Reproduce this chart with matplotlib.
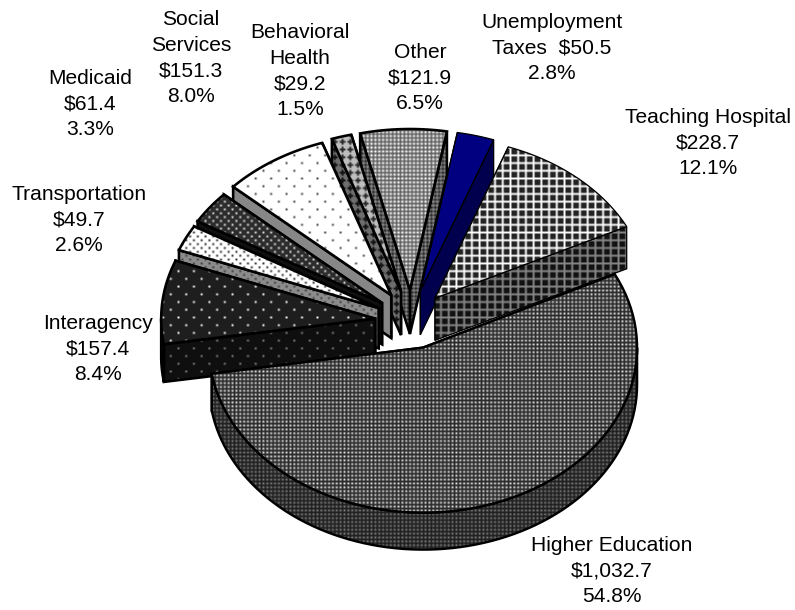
import numpy as np
import matplotlib
matplotlib.use("Agg")
import matplotlib.pyplot as plt
from matplotlib.patches import Polygon

plt.rcParams['font.family'] = ['Liberation Sans', 'DejaVu Sans']

# slices counter-clockwise, starting from the right edge of Teaching Hospital
names = ["Teaching Hospital", "Unemployment\nTaxes ", "Other", "Behavioral\nHealth", "Social\nServices",
         "Medicaid", "Transportation", "Interagency", "Higher Education"]
amounts = [228.7, 50.5, 121.9, 29.2, 151.3, 61.4, 49.7, 157.4, 1032.7]
percents = [12.1, 2.8, 6.5, 1.5, 8.0, 3.3, 2.6, 8.4, 54.8]

W, H = 795, 610
CX, CY = 411, 322      # pie centre
RX, RY = 214, 161      # tilted radii
EX, EY = 36, 32        # explosion distance
START = 26.4
UNIT = 1.93            # size of one pattern cell


def dots(size, cells, bg, fg):
    t = np.full((size, size), bg, dtype=float)
    for r, c in cells:
        t[r, c] = fg
    return t


def grid(bg, fg):
    t = np.full((4, 4), bg, dtype=float)
    t[0, :] = fg
    t[:, 0] = fg
    return t


def cross(bg, fg):
    return np.array([[bg, fg, bg, bg],
                     [fg, fg, fg, bg],
                     [bg, fg, bg, bg],
                     [bg, bg, bg, bg]], dtype=float)


SPARSE = [(0, 0), (4, 4)]
DENSE = [(0, 0), (2, 2)]

# top pattern, wall pattern and outline width for each slice
top_tiles = [grid(35, 255), None, np.array([[255, 120], [120, 90]], float), cross(190, 40),
             dots(8, SPARSE, 255, 60), dots(4, DENSE, 45, 225), dots(4, DENSE, 255, 40),
             dots(8, SPARSE, 30, 255), np.array([[225, 45], [45, 40]], float)]
wall_tiles = [grid(18, 135), None, np.array([[150, 90], [90, 30]], float), cross(110, 15),
              dots(2, [], 135, 135), dots(2, [], 15, 15), dots(4, DENSE, 140, 60),
              dots(8, SPARSE, 15, 130), np.array([[125, 35], [35, 30]], float)]
solid_top = "#000080"
solid_wall = "#00004f"
widths = [1.3, 1.3, 2.6, 2.6, 2.6, 2.6, 2.6, 2.6, 2.4]
# explosion and vertical stretch per slice; the big front slice sits closer to the viewer
explode_x = [1, 1, 1, 1, 1, 1, 1, 1, 1.1]
explode_y = [1, 1, 1, 1, 1, 1, 1, 1, 0.84]
stretch = [1, 1, 1, 1, 1, 1, 1, 1, 1.025]
# painted from the back outwards, Higher Education over everything
draw_order = [1, 0, 2, 3, 4, 5, 6, 7, 8]

fig = plt.figure(figsize=(W / 100, H / 100), dpi=100)
ax = fig.add_axes([0, 0, 1, 1])
zorder = [1]


def face(verts, tile, color, lw):
    z = zorder[0]
    zorder[0] += 2
    if tile is None:
        ax.add_patch(Polygon(verts, closed=True, fc=color, ec="black", lw=lw * 0.72, zorder=z + 1, joinstyle="miter"))
        return
    ny = int(H / (tile.shape[0] * UNIT)) + 2
    nx = int(W / (tile.shape[1] * UNIT)) + 2
    img = np.tile(tile, (ny, nx))
    im = ax.imshow(img, cmap="gray", vmin=0, vmax=255, interpolation="bilinear", aspect="auto", zorder=z,
                   extent=(0, img.shape[1] * UNIT, img.shape[0] * UNIT, 0))
    outline = Polygon(verts, closed=True, fill=False, ec="black", lw=lw * 0.72, zorder=z + 1, joinstyle="miter")
    ax.add_patch(outline)
    im.set_clip_path(outline)


def arc(ox, oy, a0, a1, ry):
    t = np.radians(np.linspace(a0, a1, 80))
    return np.column_stack((ox + RX * np.cos(t), oy - ry * np.sin(t)))


# slice boundaries from the percentages
edges = START + np.concatenate(([0], np.cumsum(np.array(percents) * 3.6)))

for i in draw_order:
    a0, a1 = edges[i], edges[i + 1]
    mid = np.radians((a0 + a1) / 2)
    ox = CX + EX * explode_x[i] * np.cos(mid)
    oy = CY - EY * explode_y[i] * np.sin(mid)
    ry = RY * stretch[i]
    depth = 37 + 7 * max(0, np.sin(mid))
    lw = widths[i]
    top = arc(ox, oy, a0, a1, ry)
    apex = np.array([ox, oy])
    drop = np.array([0, depth])

    # radial walls, the one nearer the viewer painted last
    for corner in sorted((top[-1], top[0]), key=lambda p: p[1]):
        face([apex, corner, corner + drop, apex + drop], wall_tiles[i], solid_wall, lw)

    # outer rim, only the part facing the viewer
    lo, hi = max(a0, 180), min(a1, 360)
    if lo < hi:
        rim = arc(ox, oy, lo, hi, ry)
        face(np.vstack((rim, rim[::-1] + drop)), wall_tiles[i], solid_wall, lw)

    face(np.vstack((apex, top)), top_tiles[i], solid_top, lw)

ax.set_xlim(0, W)
ax.set_ylim(H, 0)
ax.axis("off")

# label centres
label_x = [708, 552, 420, 300, 191, 90, 79, 98, 612]
label_y = [143, 48, 78, 71, 58, 104, 220, 349, 571]
for i, name in enumerate(names):
    sep = " " if name.endswith(" ") else "\n"
    s = f"{name}{sep}${amounts[i]:,.1f}\n{percents[i]:.1f}%"
    ax.text(label_x[i], label_y[i], s, ha="center", va="center", ma="center", fontsize=15.1,
            linespacing=1.46, color="black", zorder=100)

fig.savefig("out.png", dpi=100, facecolor="white")
